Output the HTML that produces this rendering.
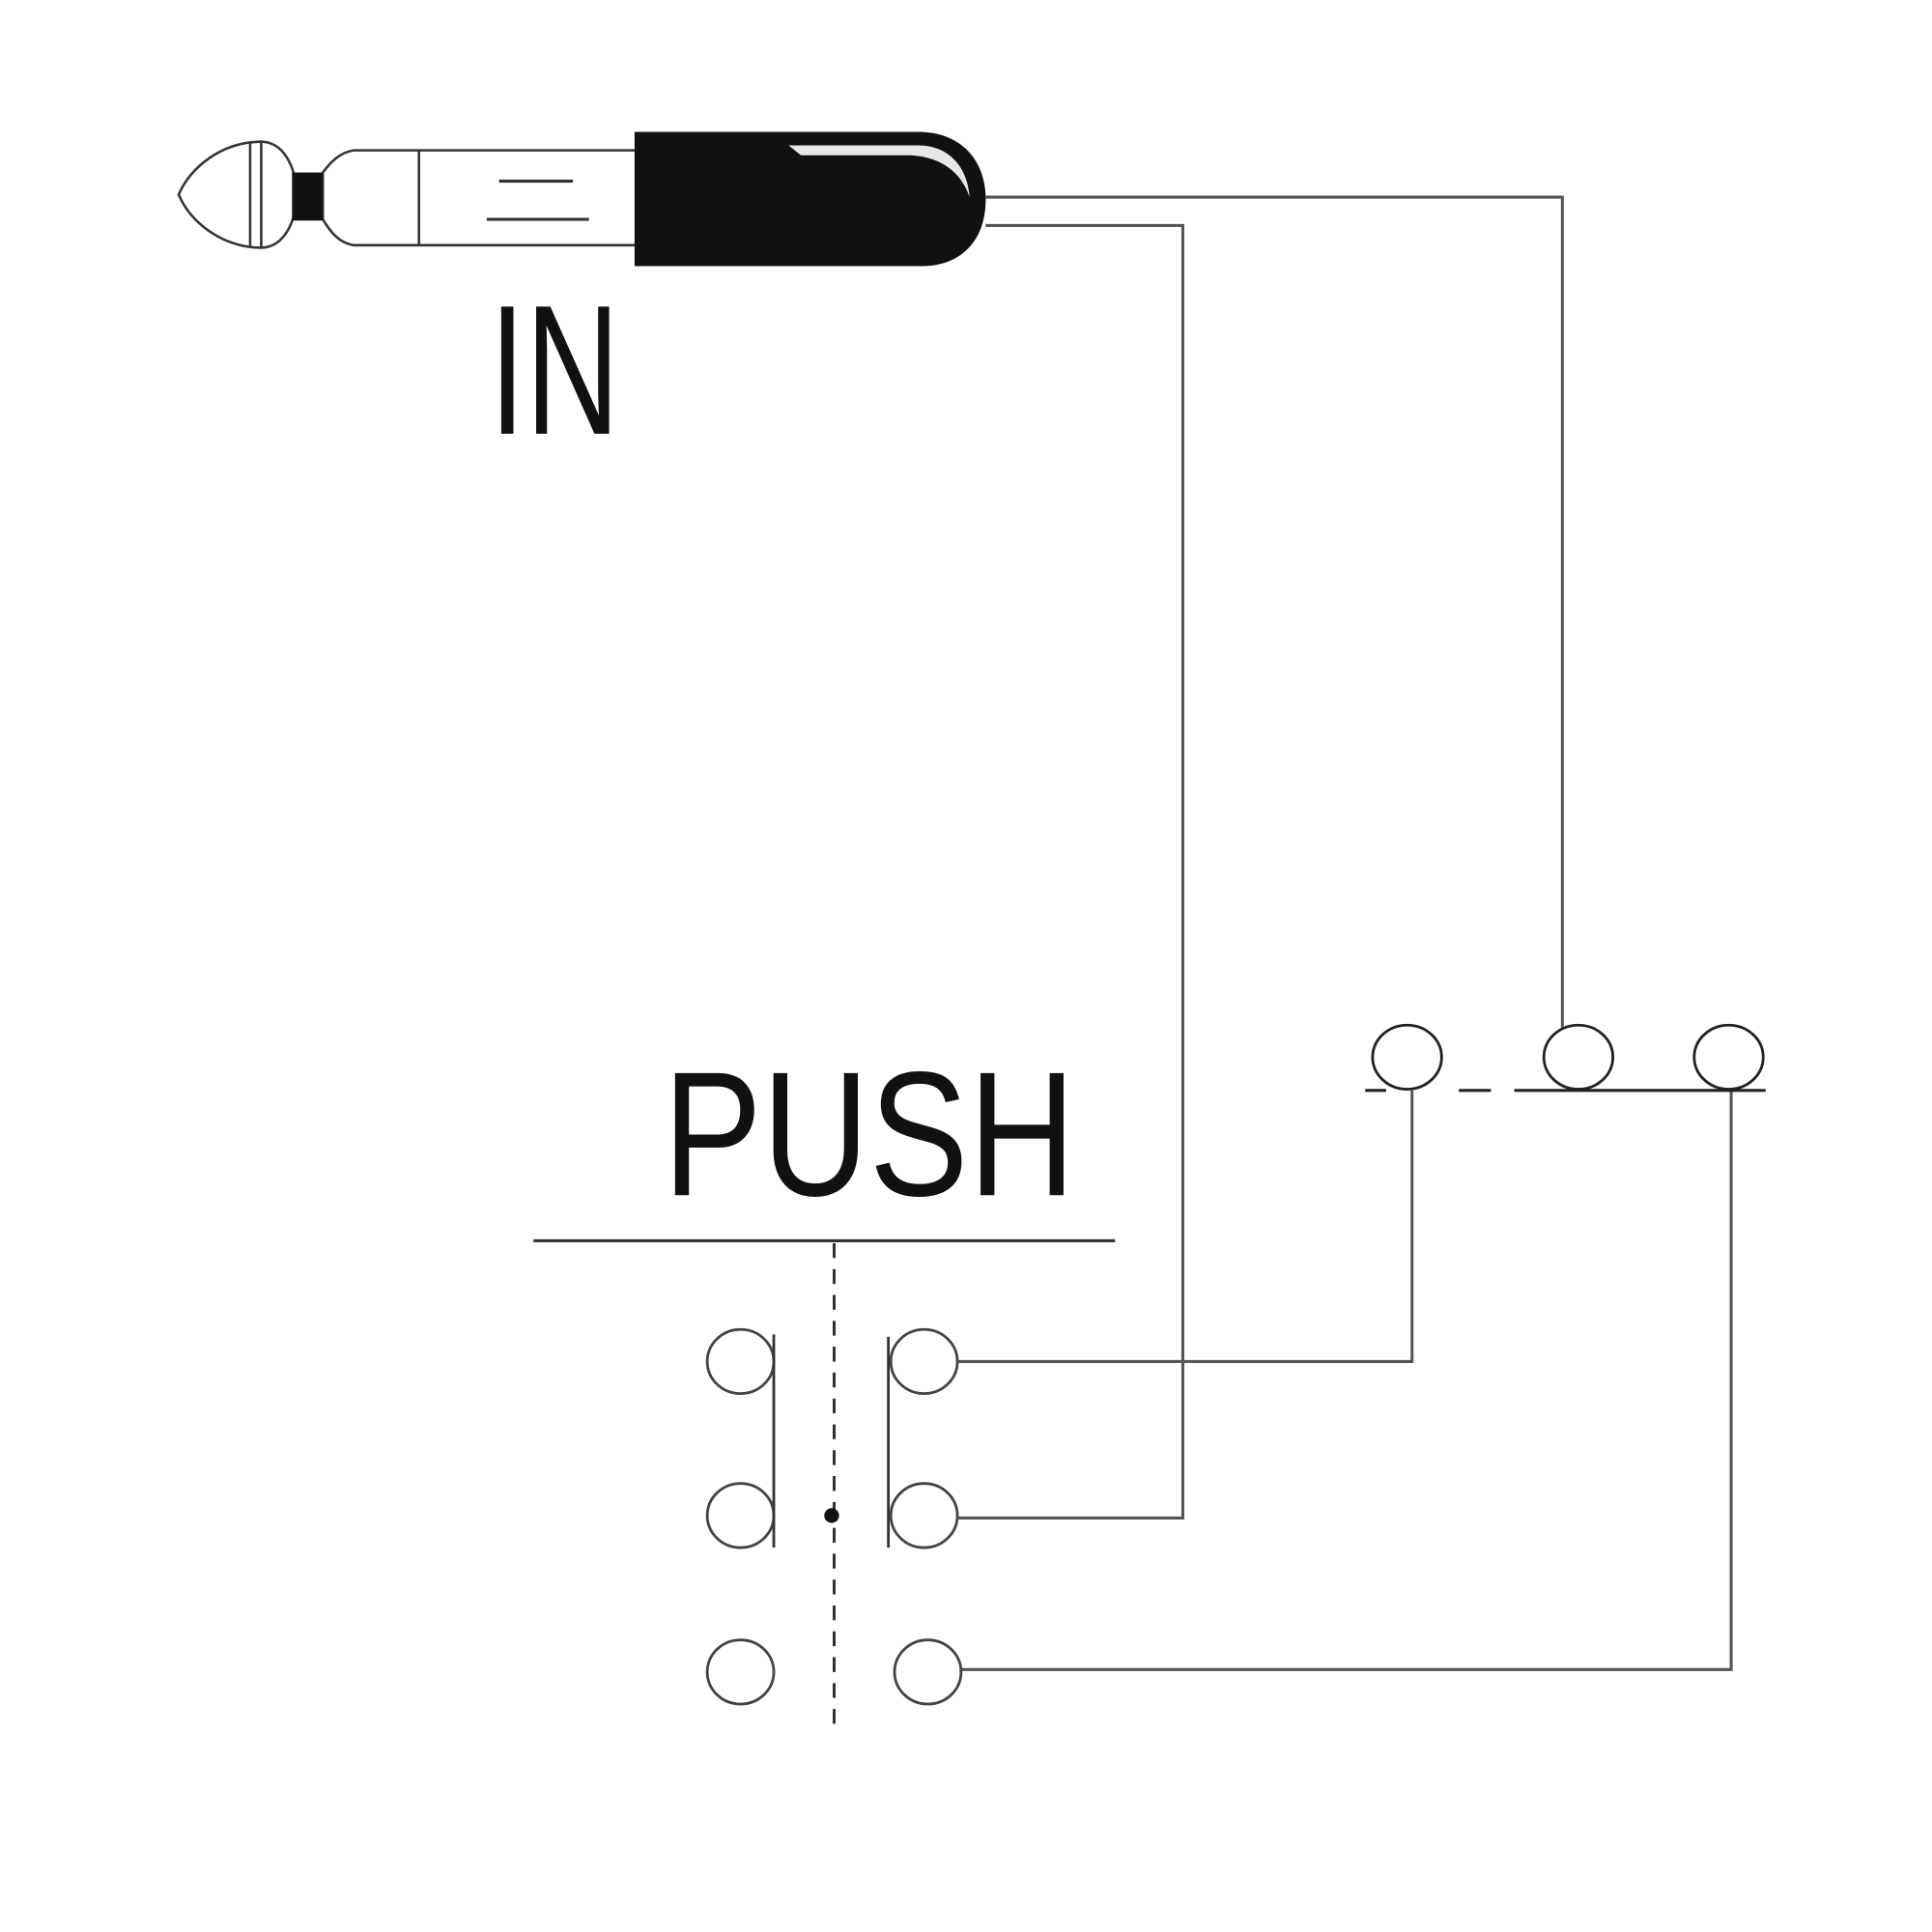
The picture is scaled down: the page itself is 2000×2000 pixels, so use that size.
<!DOCTYPE html>
<html><head><meta charset="utf-8"><style>
html,body{margin:0;padding:0;background:#fff;}
svg{display:block;}
</style></head><body>
<svg width="2000" height="2000" viewBox="0 0 1568 1568" xmlns="http://www.w3.org/2000/svg">
<rect width="1568" height="1568" fill="#fff"/>
<!-- jack plug -->
<g stroke="#333" stroke-width="2" fill="#fff">
  <path d="M145,158 C155,135 180,116 210,115 C230,114 240,135 241,158 C240,181 230,202 210,201 C180,200 155,181 145,158 Z"/>
  <line x1="203" y1="115" x2="203" y2="201"/>
  <line x1="212" y1="115" x2="212" y2="201"/>
  <path d="M262,140 C268,132 275,124 287,122 L517,122 L517,199 L287,199 C275,197 268,188 262,178 Z"/>
  <line x1="340" y1="122" x2="340" y2="199"/>
  <line x1="405" y1="147" x2="465" y2="147" stroke-width="2.5"/>
  <line x1="395" y1="178" x2="478" y2="178" stroke-width="2.5"/>
</g>
<rect x="237" y="140" width="25" height="39" fill="#111"/>
<path d="M515,107 L745,107 C780,107 800,130 800,162 C800,195 780,216 748,216 L515,216 Z" fill="#111"/>
<path d="M640,118 L745,118 C770,118 785,135 787,160 C780,140 765,128 740,126 L650,126 Z" fill="#fff" opacity="0.9"/>
<!-- wires -->
<g stroke="#555" stroke-width="2.4" fill="none">
  <polyline points="800,160 1268,160 1268,834"/>
  <polyline points="800,183 960,183 960,1232 778,1232"/>
  <polyline points="778,1105 1146,1105 1146,885"/>
  <polyline points="780,1355 1405,1355 1405,885"/>
  <line x1="433" y1="1007" x2="905" y2="1007" stroke="#333"/>
  <line x1="677" y1="1009" x2="677" y2="1400" stroke="#333" stroke-dasharray="12,9"/>
  <line x1="1108" y1="885" x2="1125" y2="885" stroke="#222" stroke-width="2.5"/>
  <line x1="1184" y1="885" x2="1210" y2="885" stroke="#222" stroke-width="2.5"/>
  <line x1="1229" y1="885" x2="1433" y2="885" stroke="#222" stroke-width="2.5"/>
</g>
<g stroke="#444" stroke-width="2.2" fill="#fff">
  <ellipse cx="601" cy="1105" rx="27" ry="26"/>
  <ellipse cx="601" cy="1230" rx="27" ry="26"/>
  <ellipse cx="601" cy="1357" rx="27" ry="26"/>
  <ellipse cx="750" cy="1105" rx="27" ry="26"/>
  <ellipse cx="750" cy="1230" rx="27" ry="26"/>
  <ellipse cx="753" cy="1357" rx="27" ry="26"/>
  <ellipse cx="1142" cy="858" rx="28" ry="26" stroke="#222"/>
  <ellipse cx="1281" cy="858" rx="28" ry="26" stroke="#222"/>
  <ellipse cx="1403" cy="858" rx="28" ry="26" stroke="#222"/>
</g>
<line x1="628" y1="1083" x2="628" y2="1256" stroke="#333" stroke-width="2.2"/>
<line x1="721" y1="1085" x2="721" y2="1256" stroke="#333" stroke-width="2.2"/>
<circle cx="675" cy="1230" r="6" fill="#111"/>
<text x="397" y="352" font-family="'Liberation Sans Narrow','Liberation Sans',sans-serif" font-size="150" textLength="106" lengthAdjust="spacingAndGlyphs" fill="#111">IN</text>
<text x="538" y="970" font-family="'Liberation Sans',sans-serif" font-size="144" textLength="335" lengthAdjust="spacingAndGlyphs" fill="#111">PUSH</text>
</svg>
</body></html>
